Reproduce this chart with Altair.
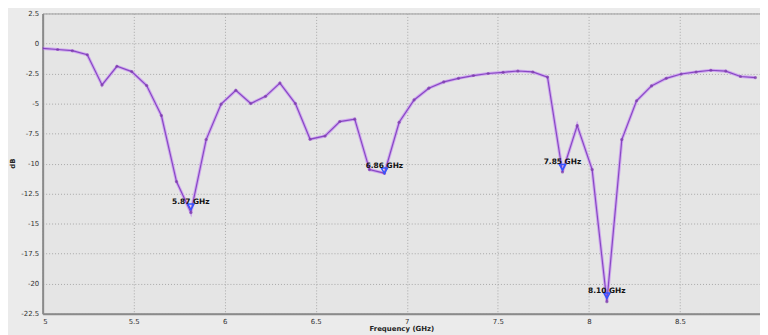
import altair as alt
import pandas as pd

freq = [5.000, 5.082, 5.163, 5.245, 5.326, 5.408, 5.489, 5.571, 5.652, 5.735,
        5.814, 5.898, 5.980, 6.061, 6.143, 6.224, 6.303, 6.388, 6.469, 6.551,
        6.632, 6.714, 6.795, 6.877, 6.958, 7.040, 7.121, 7.203, 7.284, 7.366,
        7.447, 7.529, 7.610, 7.692, 7.773, 7.855, 7.936, 8.018, 8.099, 8.181,
        8.262, 8.344, 8.425, 8.507, 8.589, 8.670, 8.752, 8.833, 8.915]
db = [-0.41, -0.50, -0.60, -0.94, -3.45, -1.90, -2.34, -3.50, -6.00, -11.50,
      -14.07, -8.00, -5.05, -3.90, -5.00, -4.40, -3.30, -5.00, -7.97, -7.70,
      -6.50, -6.30, -10.50, -10.80, -6.56, -4.70, -3.72, -3.20, -2.90, -2.67,
      -2.50, -2.40, -2.29, -2.37, -2.80, -10.70, -6.84, -10.50, -21.50, -8.00,
      -4.77, -3.53, -2.90, -2.54, -2.37, -2.23, -2.30, -2.75, -2.84]

marker_freq = [5.814, 6.877, 7.855, 8.099]
marker_db = [-13.6, -10.6, -10.3, -21.0]
marker_text = ["5.87 GHz", "6.86 GHz", "7.85 GHz", "8.10 GHz"]

x_ticks = [5, 5.5, 6, 6.5, 7, 7.5, 8, 8.5]
y_ticks = [2.5, 0, -2.5, -5, -7.5, -10, -12.5, -15, -17.5, -20, -22.5]

df = pd.DataFrame({"f": freq, "db": db})
mk = pd.DataFrame({"f": marker_freq, "db": marker_db, "t": marker_text})

FONT = "DejaVu Sans"

xs = alt.Scale(domain=[5, 8.94], nice=False, zero=False)
ys = alt.Scale(domain=[-22.5, 2.5], nice=False, zero=False)

x_axis = alt.Axis(values=x_ticks, tickCount=len(x_ticks), title="Frequency (GHz)",
                  labelExpr="toString(datum.value)",
                  labelFontSize=7, labelColor="#333333", labelFont=FONT, labelPadding=4,
                  labelOverlap=False,
                  titleFontSize=7, titleFontWeight="bold", titleFont=FONT, titleColor="#222222",
                  titlePadding=0, tickSize=0, domainColor="#8a8a8a", domainWidth=2,
                  grid=True, gridColor="#a8a8a8", gridDash=[1, 2], gridWidth=1)
y_axis = alt.Axis(values=y_ticks, tickCount=len(y_ticks), title="dB",
                  labelExpr="toString(datum.value)",
                  labelFontSize=7, labelColor="#333333", labelFont=FONT, labelPadding=4,
                  labelOverlap=False,
                  titleFontSize=7, titleFontWeight="bold", titleFont=FONT, titleColor="#222222",
                  titleX=-34, titleY=151, titleAngle=270, titleBaseline="top",
                  tickSize=0, domainColor="#8a8a8a", domainWidth=2,
                  grid=True, gridColor="#a8a8a8", gridDash=[1, 2], gridWidth=1)

base = alt.Chart(df)

halo = base.mark_line(color="#cfa9ee", strokeWidth=3.2, clip=True).encode(
    x=alt.X("f:Q", scale=xs, axis=x_axis), y=alt.Y("db:Q", scale=ys, axis=y_axis))
core = base.mark_line(color="#8848c4", strokeWidth=1.2, clip=True).encode(
    x=alt.X("f:Q", scale=xs), y=alt.Y("db:Q", scale=ys))
pts = base.mark_point(filled=True, color="#7a3aa8", size=10, shape="circle", clip=True).encode(
    x=alt.X("f:Q", scale=xs), y=alt.Y("db:Q", scale=ys))

mks = alt.Chart(mk).mark_point(shape="triangle-down", filled=False, color="#3355ff",
                               size=40, strokeWidth=1.5, opacity=1).encode(
    x=alt.X("f:Q", scale=xs), y=alt.Y("db:Q", scale=ys))
labels = alt.Chart(mk).mark_text(font=FONT, fontSize=7.5, fontWeight="bold", color="#111111",
                                 dy=-5, align="center", baseline="middle").encode(
    x=alt.X("f:Q", scale=xs), y=alt.Y("db:Q", scale=ys), text="t:N")

chart = alt.layer(halo, core, pts, mks, labels).properties(
    width=724, height=303,
    autosize=alt.AutoSizeParams(type="none"),
    padding={"left": 35, "top": 4, "right": 0, "bottom": 20},
    background="#ebebeb",
).configure_view(fill="#e5e5e5", stroke="#9a9a9a", strokeWidth=1)

chart.save("out.html", embed_options={"renderer": "svg", "actions": False})
